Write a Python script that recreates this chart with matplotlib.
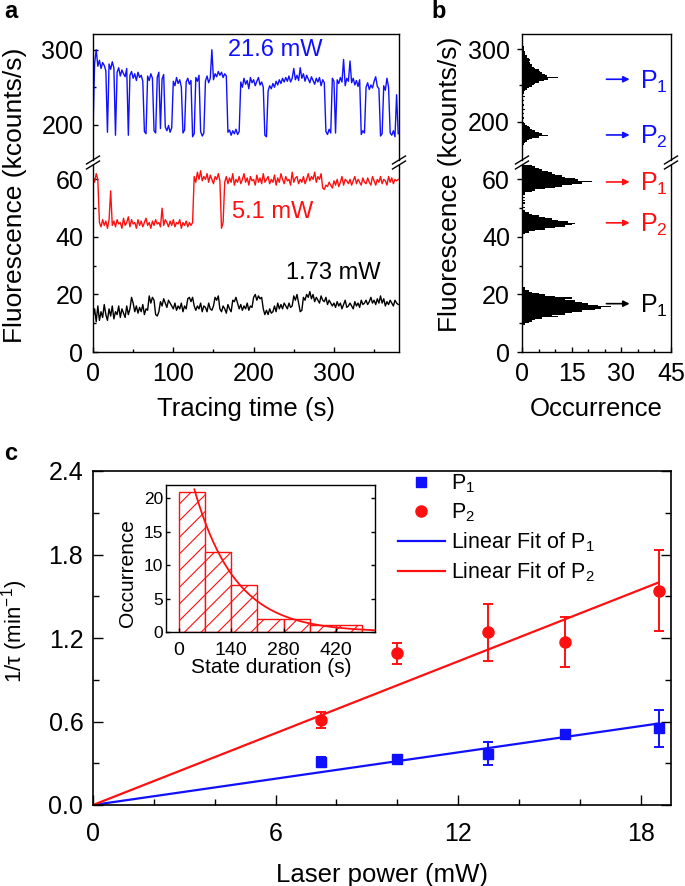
import numpy as np
import matplotlib
matplotlib.use("Agg")
import matplotlib.pyplot as plt
from matplotlib.lines import Line2D
from matplotlib.ticker import FixedLocator, MultipleLocator

plt.rcParams['font.family'] = ['Liberation Sans', 'DejaVu Sans']
plt.rcParams['mathtext.fontset'] = 'custom'
plt.rcParams['mathtext.rm'] = 'Liberation Sans'
plt.rcParams['mathtext.it'] = 'Liberation Sans:italic'
plt.rcParams['mathtext.bf'] = 'Liberation Sans:bold'
plt.rcParams['axes.linewidth'] = 1.0
plt.rcParams['hatch.linewidth'] = 0.8
plt.rcParams['hatch.color'] = 'red'

# ---------------- data: panel a (fluorescence traces, sampled every 2 s) -------------
trace_step_s = 2
blue_trace = [
    193, 282, 300, 278, 286, 275, 283, 279, 272, 190,
    281, 274, 284, 276, 186, 270, 276, 265, 273, 268,
    264, 275, 186, 266, 271, 262, 268, 259, 270, 263,
    266, 258, 191, 188, 265, 259, 268, 262, 192, 189,
    263, 270, 195, 261, 267, 197, 192, 199, 190, 196,
    258, 252, 263, 255, 260, 250, 189, 193, 257, 262,
    254, 259, 184, 188, 263, 258, 266, 191, 185, 189,
    258, 265, 256, 262, 300, 260, 268, 264, 271, 266,
    270, 263, 268, 265, 190, 193, 186, 192, 188, 194,
    187, 191, 257, 250, 262, 254, 259, 248, 263, 256,
    260, 252, 258, 263, 253, 257, 250, 186, 184, 245,
    252, 248, 255, 250, 258, 253, 260, 255, 262, 257,
    263, 258, 265, 257, 262, 275, 260, 266, 259, 276,
    262, 268, 258, 266, 261, 256, 264, 259, 254, 262,
    257, 263, 252, 260, 256, 191, 187, 194, 189, 262,
    258, 189, 260, 255, 263, 257, 287, 252, 262, 258,
    285, 256, 262, 253, 259, 251, 260, 187, 192, 189,
    250, 256, 247, 253, 249, 258, 264, 251, 248, 185,
    188, 252, 246, 262, 250, 189, 186, 192, 184, 240,
    188]
red_trace = [
    61, 59, 62, 60, 45, 43.5, 46, 44, 45.5, 43,
    46, 56, 44, 45.5, 43.5, 46, 44.5, 45, 43, 46.5,
    44, 45, 47, 43.5, 46, 44.5, 45, 43, 46, 44,
    45.5, 43.5, 45, 46.5, 44, 45, 43, 45.5, 44, 46,
    44.5, 45, 43.5, 50, 44, 46, 45, 43.5, 45.5, 44,
    46, 43.5, 45, 44.5, 46, 43, 45, 44, 45.5, 43.5,
    45, 44, 45, 61, 59, 62.5, 60, 63, 59.5, 61,
    60, 62, 59, 61.5, 60, 58.5, 61, 60, 62, 59.5,
    43, 45, 59, 61, 58.5, 60.5, 59, 62, 58, 60,
    59, 61, 58.5, 60, 62, 59, 60.5, 58, 61, 59.5,
    60, 58, 61.5, 59, 60.5, 58.5, 62, 59, 60, 61,
    58.5, 60, 59, 61.5, 58, 60.5, 59, 62, 60, 58.5,
    61, 59.5, 60, 58, 62.5, 59, 60.5, 61, 58.5, 60,
    59, 61, 58.5, 60, 62, 59.5, 61, 60, 62.5, 59,
    61, 60, 62, 57, 56.5, 58, 57.5, 59, 58, 57,
    59.5, 58, 60, 57.5, 59, 61, 58, 60, 59.5, 58.5,
    60, 58, 59.5, 61, 58.5, 60, 59, 58, 60.5, 59,
    58.5, 60.5, 59, 58, 61, 59.5, 58, 60, 59, 61,
    58.5, 60, 59.5, 58, 61, 59, 60.5, 58.5, 60, 59.5,
    60]
black_trace = [
    12, 15, 10.5, 16, 11, 14, 12, 16.5, 13, 11,
    15, 12.5, 16, 11.5, 14, 13, 16, 12, 15, 13.5,
    12, 16, 13, 15, 19, 17, 14, 16, 13.5, 15.5,
    14, 16.5, 13, 15, 14.5, 19.5, 17, 19, 18, 13,
    12.5, 14, 17.5, 16, 18.5, 17, 15.5, 18, 17, 16,
    15, 17, 14.5, 16, 15, 17, 14, 16, 15, 18.5,
    19, 17.5, 19, 16, 14.5, 16, 15, 17, 14, 16,
    15.5, 14, 17, 15, 14.5, 16, 19, 18, 19.5, 15,
    14, 16, 15, 13.5, 16.5, 15, 14, 18, 17.5, 19,
    17, 15, 16.5, 14.5, 16, 15, 17, 14.5, 16, 15.5,
    19, 20, 18, 19.5, 18.5, 19, 15, 13, 14.5, 13,
    15, 13.5, 14, 16, 14, 17, 15, 16.5, 15, 17,
    16, 15, 17, 15.5, 16, 19.5, 18, 20, 17, 14,
    14.5, 19, 18, 20, 19, 21, 18.5, 20, 17.5, 19,
    18, 17, 19.5, 18, 17.5, 19, 16.5, 18, 17, 16,
    17, 15.5, 17.5, 16, 17, 15, 16.5, 18, 15.5, 16,
    17, 16, 15, 17.5, 16, 17, 15.5, 18, 16.5, 17,
    18, 16.5, 17.5, 19, 17, 18, 16.5, 18.5, 17, 19.5,
    17, 18.5, 16, 17.5, 16.5, 18, 17, 16, 18, 17,
    16.5]
trace_labels = ['21.6 mW', '5.1 mW', '1.73 mW']

# ---------------- data: panel b (occurrence histograms) ----------------
low_bin_width = 0.5            # kcounts/s, lower (0-65) segment
black_hist_from = 9.5
black_hist = [1, 2, 3, 4, 6, 11, 9, 13, 15, 18, 22, 24, 27, 23, 20, 18, 16, 13, 15,
              10, 7, 5, 3, 2, 1, 1]
red_hist_from = 41.0
red_hist = [1, 2, 4, 7, 10, 13, 15, 16, 14, 11, 9, 7, 5, 3, 2, 1, 1,
            0, 1, 0, 0, 1, 0, 1, 0, 1, 0,
            1, 1, 3, 4, 7, 10, 12, 15, 18, 21, 17, 16, 13, 12, 10, 9, 8, 6, 5, 4, 3, 2]
high_bin_width = 2.0           # kcounts/s, upper (150-320) segment
blue_hist_from = 168
blue_hist = [0.5, 1, 1.5, 2, 3, 5, 8, 6, 5, 4, 3, 2.5, 2, 1.5, 1, 0.5,
             0, 0, 0.5, 0, 0, 0.5, 0, 0, 1, 0, 0, 0.5, 0, 0, 0.5, 0, 0, 1, 0, 0.5,
             0.5, 1, 1.5, 2, 3, 3.5, 4, 5, 6.5, 8, 11, 7.5, 7, 6, 5.5, 5, 4, 3.5, 3, 3,
             2.5, 2, 2.5, 2, 1.5, 1.5, 1, 1, 1, 0.5, 0.5, 0.5]
state_levels_blue = [258.5, 181.6]   # P1, P2 of 21.6 mW
state_levels_red = [59.1, 44.9]      # P1, P2 of 5.1 mW
state_levels_black = [16.8]          # P1 of 1.73 mW

# ---------------- data: panel c ----------------
laser_power = [7.5, 10.0, 13.0, 15.5, 18.6]
rate_p1 = [0.31, 0.33, 0.37, 0.51, 0.55]
err_p1 = [0.033, 0.02, 0.08, 0.025, 0.13]
rate_p2 = [0.61, 1.09, 1.24, 1.17, 1.54]
err_p2 = [0.055, 0.077, 0.207, 0.18, 0.29]
slope_p1 = 0.0315
slope_p2 = 0.086
# inset: state duration histogram
dur_bin_edges = [0, 70, 140, 210, 280, 350, 420, 490]
dur_counts = [21, 12, 7, 2, 2, 1, 1]
exp_amp = 31.0
exp_tau = 110.0
exp_start = 41

# ---------------- figure ----------------
W, H = 685, 886
fig = plt.figure(figsize=(W / 100, H / 100), dpi=100)


def add_ax(l, t, r, b):
    return fig.add_axes([l / W, 1 - b / H, (r - l) / W, (b - t) / H])


def fx(px):
    return px / W


def fy(py):
    return 1 - py / H


TICK = 18
BLUE = '#1010ff'
RED = '#ff1010'
tt = np.arange(len(blue_trace)) * trace_step_s

# ---- panel a ----
axAt = add_ax(93, 34, 399, 160)
axAb = add_ax(93, 165, 399, 352)
axAt.plot(tt, blue_trace, color=BLUE, lw=1.0)
axAb.plot(tt, red_trace, color=RED, lw=1.0)
axAb.plot(tt, black_trace, color='black', lw=1.0)
for ax in (axAt, axAb):
    ax.set_xlim(0, 381)
axAt.set_ylim(153, 321)
axAb.set_ylim(0, 65)

# ---- panel b ----
axBt = add_ax(522, 34, 671, 160)
axBb = add_ax(522, 165, 671, 352)
bl = black_hist_from + np.arange(len(black_hist)) * low_bin_width
rl = red_hist_from + np.arange(len(red_hist)) * low_bin_width
hl = blue_hist_from + np.arange(len(blue_hist)) * high_bin_width
axBb.barh(bl, black_hist, height=low_bin_width, align='edge', color='black', lw=0)
axBb.barh(rl, red_hist, height=low_bin_width, align='edge', color='black', lw=0)
axBt.barh(hl, blue_hist, height=high_bin_width, align='edge', color='black', lw=0)
for ax in (axBt, axBb):
    ax.set_xlim(0, 45)
axBt.set_ylim(147, 321)
axBb.set_ylim(0, 65)

# tick styling for a/b
for ax, ydir in ((axAt, 'in'), (axAb, 'in'), (axBt, 'out'), (axBb, 'out')):
    ax.tick_params(axis='y', which='both', direction=ydir, left=True, right=False,
                   labelsize=TICK, width=1.0, pad=7 if ydir == 'in' else 5)
    ax.tick_params(axis='y', which='major', length=3.6)
    ax.tick_params(axis='y', which='minor', length=2.2)
for ax in (axAt, axBt):
    ax.spines['bottom'].set_visible(False)
    ax.tick_params(axis='x', which='both', bottom=False, labelbottom=False)
    ax.yaxis.set_major_locator(FixedLocator([200, 300]))
    ax.yaxis.set_minor_locator(FixedLocator([250]))
for ax in (axAb, axBb):
    ax.spines['top'].set_visible(False)
    ax.yaxis.set_major_locator(FixedLocator([0, 20, 40, 60]))
    ax.yaxis.set_minor_locator(FixedLocator([10, 30, 50]))
    ax.tick_params(axis='x', which='both', direction='in', top=False,
                   labelsize=TICK, width=1.0, pad=7)
    ax.tick_params(axis='x', which='major', length=3.6)
    ax.tick_params(axis='x', which='minor', length=2.2)
axAb.xaxis.set_major_locator(MultipleLocator(100))
axAb.xaxis.set_minor_locator(MultipleLocator(50))
axBb.xaxis.set_major_locator(MultipleLocator(15))
axBb.xaxis.set_minor_locator(MultipleLocator(5))

# break marks
for xs in (93, 399, 522, 671):
    for yb in (160, 165):
        fig.add_artist(Line2D([fx(xs - 6.5), fx(xs + 6.5)], [fy(yb + 4), fy(yb - 4)],
                              transform=fig.transFigure, color='black', lw=1.0))

# trace annotations
axAt.text(227, 299, trace_labels[0], color=BLUE, fontsize=17, ha='center', va='center')
axAb.text(173, 48.8, trace_labels[1], color=RED, fontsize=17, ha='left', va='center')
axAb.text(299.5, 27.5, trace_labels[2], color='black', fontsize=17, ha='center', va='center')


def state_arrow(ax, y, color, label):
    ax.annotate('', xy=(32.5, y), xytext=(25.5, y),
                arrowprops=dict(arrowstyle='-|>', color=color, lw=1.2, mutation_scale=9,
                                shrinkA=0, shrinkB=0))
    ax.text(35.5, y - (3 if ax is axBt else 0.8), label, color=color, fontsize=18,
            ha='left', va='center')


state_arrow(axBt, state_levels_blue[0], BLUE, 'P$_1$')
state_arrow(axBt, state_levels_blue[1], BLUE, 'P$_2$')
state_arrow(axBb, state_levels_red[0], RED, 'P$_1$')
state_arrow(axBb, state_levels_red[1], RED, 'P$_2$')
state_arrow(axBb, state_levels_black[0], 'black', 'P$_1$')

# labels a/b
fig.text(fx(15), fy(195), 'Fluorescence (kcounts/s)', rotation=90, fontsize=19,
         ha='center', va='center')
fig.text(fx(450), fy(184), 'Fluorescence (kcounts/s)', rotation=90, fontsize=19,
         ha='center', va='center')
fig.text(fx(246), fy(416), 'Tracing time (s)', fontsize=18.5, ha='center', va='baseline')
fig.text(fx(596), fy(416), 'Occurrence', fontsize=18.5, ha='center', va='baseline')
fig.text(fx(4), fy(18), 'a', fontsize=17, fontweight='bold', va='baseline')
fig.text(fx(431), fy(18), 'b', fontsize=17, fontweight='bold', va='baseline')
fig.text(fx(4), fy(460), 'c', fontsize=17, fontweight='bold', va='baseline')

# ---- panel c ----
axC = add_ax(93, 471, 671, 805)
pw = np.array(laser_power)
x_fit = np.array([0, pw.max()])
axC.plot(x_fit, slope_p1 * x_fit, color=BLUE, lw=1.6, zorder=2)
axC.plot(x_fit, slope_p2 * x_fit, color=RED, lw=1.6, zorder=2)
axC.errorbar(pw, rate_p1, yerr=err_p1, fmt='s', color=BLUE, ms=6.5, capsize=3.5,
             elinewidth=1.4, capthick=1.4, zorder=3)
axC.errorbar(pw, rate_p2, yerr=err_p2, fmt='o', color=RED, ms=8, capsize=3.5,
             elinewidth=1.4, capthick=1.4, zorder=3)
axC.set_xlim(0, 19)
axC.set_ylim(0, 2.4)
axC.xaxis.set_major_locator(MultipleLocator(6))
axC.xaxis.set_minor_locator(MultipleLocator(2))
axC.yaxis.set_major_locator(MultipleLocator(0.6))
axC.yaxis.set_minor_locator(MultipleLocator(0.3))
axC.yaxis.set_major_formatter(matplotlib.ticker.FormatStrFormatter('%.1f'))
axC.tick_params(axis='both', which='both', direction='in', width=1.0, labelsize=18)
axC.tick_params(axis='y', which='both', left=True, right=True, pad=7)
axC.tick_params(axis='x', which='both', bottom=True, top=False, pad=12)
axC.tick_params(which='major', length=7)
axC.tick_params(which='minor', length=4)
for s in axC.spines.values():
    s.set_linewidth(1.2)
fig.text(fx(15), fy(631), '1/τ (min$^{-1}$)', rotation=90, fontsize=16,
         ha='center', va='center')
fig.text(fx(382), fy(882), 'Laser power (mW)', fontsize=18.5, ha='center', va='baseline')

handles = [Line2D([], [], ls='none', marker='s', color=BLUE, ms=6.5),
           Line2D([], [], ls='none', marker='o', color=RED, ms=8),
           Line2D([], [], color=BLUE, lw=1.6),
           Line2D([], [], color=RED, lw=1.6)]
labels = ['P$_1$', 'P$_2$', 'Linear Fit of P$_1$', 'Linear Fit of P$_2$']
axC.legend(handles, labels, loc='upper left', bbox_to_anchor=(0.527, 0.995),
           frameon=False, fontsize=15.5, handlelength=2.2, handletextpad=0.3,
           labelspacing=0.3, borderpad=0, borderaxespad=0)

# ---- inset ----
axI = add_ax(166, 485, 375, 632)
axI.bar(dur_bin_edges[:-1], dur_counts, width=np.diff(dur_bin_edges), align='edge',
        facecolor='white', edgecolor=RED, hatch='//', lw=1.0)
t_fit = np.linspace(exp_start, 525, 200)
axI.plot(t_fit, exp_amp * np.exp(-t_fit / exp_tau), color=RED, lw=1.3)
axI.set_xlim(-35, 525)
axI.set_ylim(0, 22)
axI.xaxis.set_major_locator(FixedLocator([0, 140, 280, 420]))
axI.yaxis.set_major_locator(MultipleLocator(5))
axI.tick_params(axis='x', direction='in', length=3, width=1.0, labelsize=14, pad=7)
axI.tick_params(axis='y', direction='in', length=3, width=1.0, labelsize=12.5, pad=2,
                left=True, right=True)
fig.text(fx(128), fy(573), 'Occurrence', rotation=90, fontsize=15, ha='center', va='center')
fig.text(fx(271), fy(673), 'State duration (s)', fontsize=15, ha='center', va='baseline')

fig.savefig('out.png', dpi=100)
